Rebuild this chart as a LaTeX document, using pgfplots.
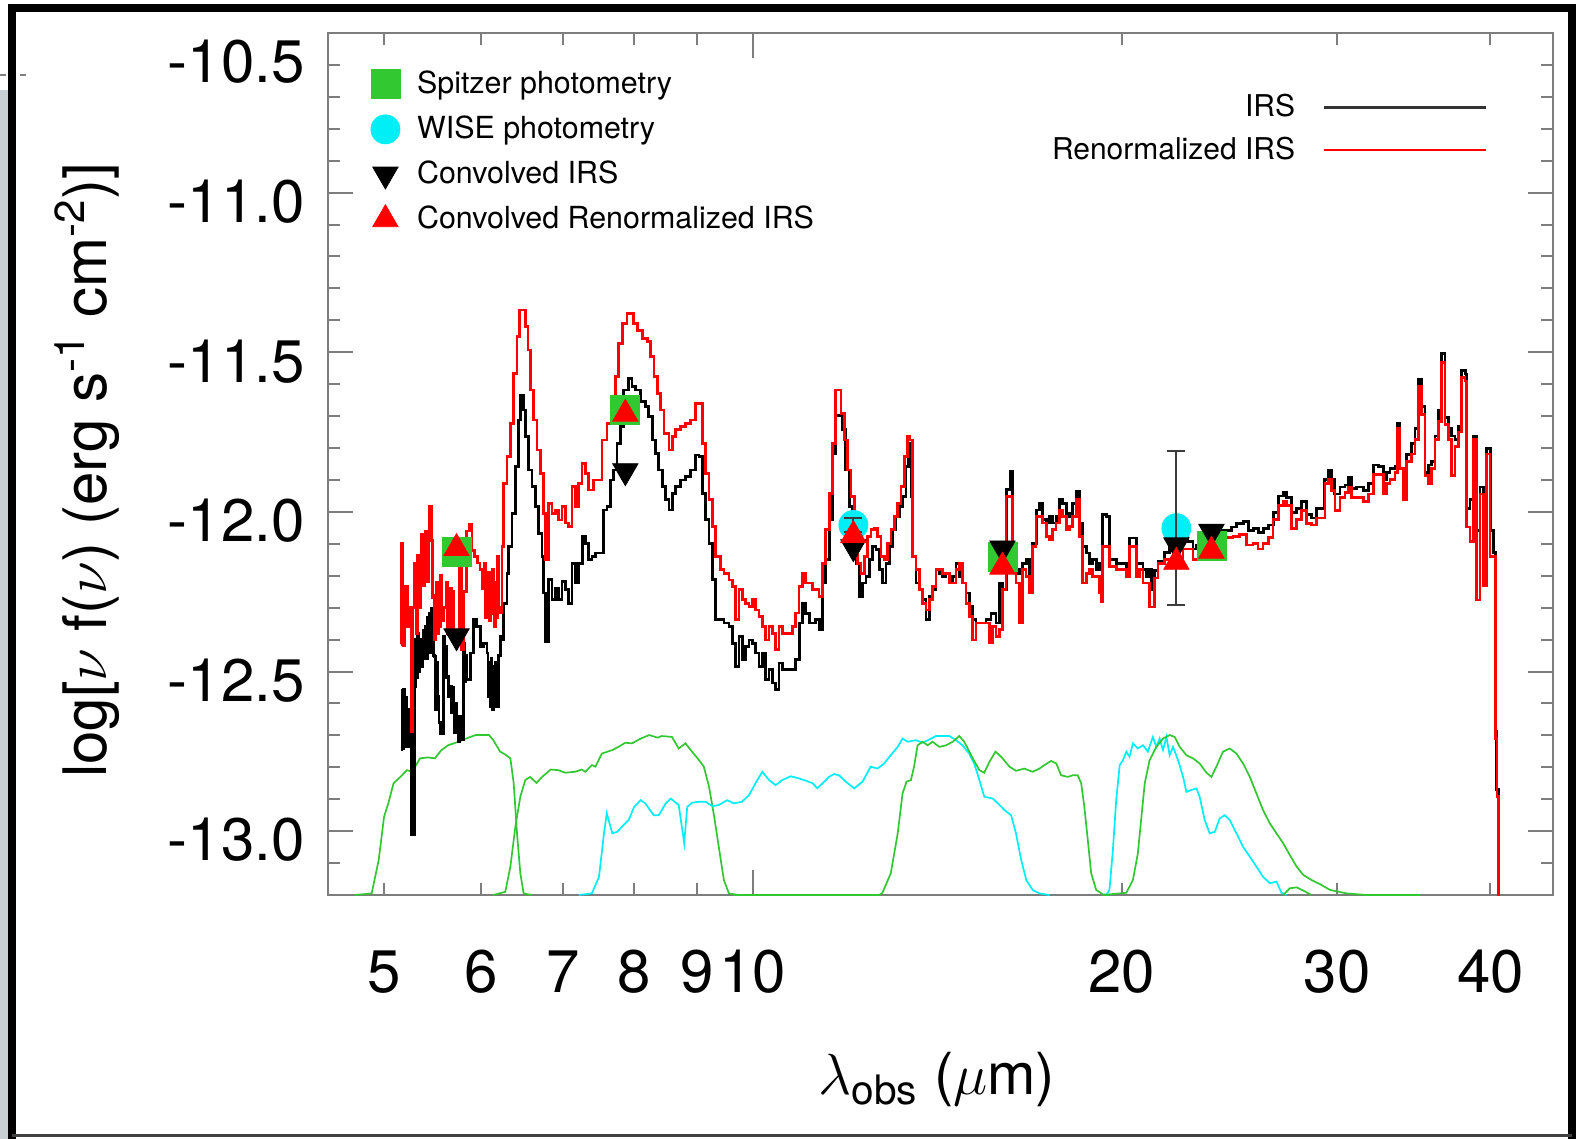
\documentclass[border=0pt]{standalone}
\usepackage{fix-cm}
\usepackage{amsmath}
\usepackage{fontspec}
\setmainfont{TeX Gyre Heros}
\usepackage{pgfplots}
\pgfplotsset{compat=1.18}
\definecolor{fgreen}{RGB}{50,200,50}
\definecolor{fcyan}{RGB}{0,238,245}
\definecolor{axgray}{RGB}{125,125,125}
\definecolor{bggray}{RGB}{200,208,212}
\definecolor{errgray}{RGB}{60,60,60}
\begin{document}
\begin{tikzpicture}
\useasboundingbox (0pt,0pt) rectangle (792pt,-569.5pt);
\fill[white] (0pt,0pt) rectangle (792pt,-569.5pt);
\fill[bggray] (0pt,-45pt) rectangle (4pt,-569.5pt);
\draw[gray, dash pattern=on 3pt off 2pt, line width=0.8pt] (0pt,-37.5pt) -- (13pt,-37.5pt);
\draw[black, line width=3.9pt, line join=miter] (5.9pt,-569.5pt) -- (5.9pt,-4pt) -- (786.1pt,-4pt) -- (786.1pt,-569.5pt);
\draw[black!75, line width=1.5pt] (5.9pt,-567.8pt) -- (786.1pt,-567.8pt);
\begin{axis}[
  at={(164pt,-447.5pt)}, anchor=south west,
  width=612.5pt, height=431pt, scale only axis,
  xmode=log, xmin=4.5, xmax=45, ymin=-13.2, ymax=-10.5,
  clip marker paths=true,
  axis line style={axgray, line width=1pt},
  tick style={axgray, line width=1pt},
  major tick length=12.5pt, minor tick length=6pt,
  tick align=inside, tick pos=both,
  xtick={10}, xticklabels={10},
  minor xtick={5,6,7,8,9,20,30,40},
  extra x ticks={5,6,7,8,9,20,30,40},
  extra x tick labels={5,6,7,8,9,20,30,40},
  extra x tick style={major tick length=0pt},
  ytick={-13,-12.5,-12,-11.5,-11},
  yticklabels={-13.0,-12.5,-12.0,-11.5,-11.0},
  minor ytick={-13.1,-12.9,-12.8,-12.7,-12.6,-12.4,-12.3,-12.2,-12.1,-11.9,-11.8,-11.7,-11.6,-11.4,-11.3,-11.2,-11.1,-10.9,-10.8,-10.7,-10.6},
  extra y ticks={-10.5}, extra y tick labels={-10.5},
  extra y tick style={yticklabel style={yshift=-10pt}},
  tick label style={font=\fontsize{30}{36}\selectfont, text=black},
  xticklabel style={anchor=center, inner sep=0pt, yshift=-38.5pt},
  yticklabel style={anchor=east, inner sep=0pt, xshift=-11.5pt, yshift=-4.5pt},
  xlabel={$\lambda_{\text{obs}}$ ($\mu$m)},
  ylabel={log[$\nu$ f($\nu$) (erg s$^{\text{-1}}$ cm$^{\text{-2}}$)]},
  label style={font=\fontsize{30}{36}\selectfont},
  xlabel style={at={(axis description cs:0.497,-0.2146)}, anchor=center, font=\fontsize{29}{35}\selectfont},
  ylabel style={at={(axis description cs:-0.1967,0.493)}, anchor=center},
  legend style={at={(axis description cs:0.0347,0.9606)}, anchor=north west, draw=none, fill=none, inner sep=0pt, row sep=5.5pt, column sep=6.6pt, font=\fontsize{15.2}{18}\selectfont, nodes={inner sep=2pt, text height=11pt, text depth=2pt}},
  legend cell align=left,
  legend image code/.code={\draw[#1] plot coordinates {(0pt,0pt)};},
]
% ---------- filter curves ----------
\addplot[fgreen, line width=0.85pt, forget plot] coordinates {
(4.73,-13.2)(4.885,-13.195)(4.95,-13.09)(5.0,-12.955)(5.04,-12.913)(5.09,-12.85)(5.14,-12.835)(5.22,-12.809)(5.27,-12.814)(5.35,-12.772)(5.43,-12.769)(5.50,-12.772)(5.57,-12.746)(5.64,-12.731)(5.72,-12.723)(5.79,-12.715)(5.86,-12.707)(5.94,-12.699)(6.09,-12.699)(6.14,-12.715)(6.22,-12.751)(6.28,-12.76)(6.34,-12.772)(6.38,-12.85)(6.42,-13.007)(6.46,-13.132)(6.50,-13.195)(6.60,-13.2)};
\addplot[fgreen, line width=0.85pt, forget plot] coordinates {
(6.14,-13.2)(6.28,-13.19)(6.34,-13.111)(6.40,-12.986)(6.46,-12.892)(6.52,-12.840)(6.58,-12.830)(6.66,-12.849)(6.73,-12.830)(6.84,-12.807)(6.94,-12.809)(7.03,-12.817)(7.16,-12.814)(7.25,-12.807)(7.30,-12.814)(7.39,-12.793)(7.44,-12.798)(7.53,-12.757)(7.68,-12.746)(7.77,-12.736)(7.87,-12.723)(7.97,-12.725)(8.10,-12.710)(8.23,-12.699)(8.36,-12.707)(8.43,-12.702)(8.59,-12.705)(8.70,-12.741)(8.81,-12.725)(8.92,-12.751)(9.04,-12.778)(9.12,-12.798)(9.21,-12.861)(9.30,-12.955)(9.38,-13.049)(9.47,-13.153)(9.56,-13.195)(9.74,-13.2)};
\addplot[fcyan, line width=0.85pt, forget plot] coordinates {
(7.21,-13.2)(7.39,-13.195)(7.49,-13.143)(7.56,-13.007)(7.60,-12.944)(7.68,-13.007)(7.75,-13.002)(7.82,-12.986)(7.92,-12.965)(8.00,-12.924)(8.10,-12.903)(8.17,-12.913)(8.30,-12.950)(8.38,-12.950)(8.49,-12.913)(8.57,-12.898)(8.70,-12.918)(8.79,-13.038)(8.84,-12.924)(8.92,-12.911)(9.04,-12.908)(9.15,-12.908)(9.27,-12.922)(9.38,-12.918)(9.53,-12.903)(9.65,-12.913)(9.80,-12.908)(9.93,-12.887)(10.05,-12.850)(10.18,-12.814)(10.31,-12.840)(10.44,-12.856)(10.57,-12.840)(10.74,-12.828)(10.91,-12.835)(11.05,-12.842)(11.19,-12.850)(11.29,-12.866)(11.40,-12.850)(11.54,-12.830)(11.65,-12.821)(11.76,-12.825)(11.91,-12.845)(12.10,-12.866)(12.29,-12.845)(12.48,-12.798)(12.64,-12.804)(12.80,-12.788)(12.96,-12.762)(13.13,-12.736)(13.25,-12.710)(13.38,-12.720)(13.59,-12.715)(13.76,-12.723)(13.93,-12.713)(14.11,-12.702)(14.47,-12.702)(14.65,-12.715)(14.83,-12.731)(15.02,-12.757)(15.16,-12.788)(15.31,-12.840)(15.45,-12.892)(15.70,-12.898)(15.90,-12.918)(16.05,-12.934)(16.25,-12.950)(16.40,-13.007)(16.56,-13.090)(16.72,-13.153)(16.92,-13.184)(17.14,-13.195)(17.47,-13.2)};
\addplot[fgreen, line width=0.85pt, forget plot] coordinates {
(9.65,-13.2)(12.68,-13.2)(12.76,-13.193)(12.96,-13.132)(13.13,-13.007)(13.25,-12.882)(13.35,-12.845)(13.46,-12.840)(13.54,-12.798)(13.63,-12.731)(13.76,-12.720)(13.89,-12.731)(14.02,-12.720)(14.20,-12.736)(14.38,-12.731)(14.56,-12.720)(14.74,-12.702)(14.88,-12.720)(15.12,-12.772)(15.31,-12.809)(15.45,-12.817)(15.60,-12.783)(15.78,-12.751)(15.95,-12.767)(16.20,-12.798)(16.40,-12.811)(16.66,-12.804)(16.92,-12.814)(17.14,-12.804)(17.30,-12.793)(17.52,-12.780)(17.69,-12.788)(17.85,-12.825)(18.08,-12.830)(18.25,-12.825)(18.42,-12.825)(18.54,-12.850)(18.65,-12.924)(18.77,-13.028)(18.89,-13.132)(19.07,-13.184)(19.31,-13.198)(19.55,-13.2)};
\addplot[fcyan, line width=0.85pt, forget plot] coordinates {
(19.43,-13.2)(19.55,-13.184)(19.68,-13.059)(19.80,-12.903)(19.93,-12.793)(20.05,-12.778)(20.18,-12.751)(20.30,-12.767)(20.43,-12.725)(20.62,-12.741)(20.82,-12.731)(21.01,-12.751)(21.21,-12.705)(21.35,-12.736)(21.48,-12.710)(21.62,-12.746)(21.76,-12.705)(21.89,-12.762)(22.03,-12.736)(22.24,-12.778)(22.45,-12.830)(22.59,-12.877)(22.81,-12.871)(23.02,-12.866)(23.16,-12.892)(23.38,-12.965)(23.60,-13.007)(23.83,-13.002)(24.05,-12.960)(24.28,-12.950)(24.51,-12.965)(24.82,-13.007)(25.13,-13.049)(25.45,-13.080)(25.77,-13.111)(26.09,-13.143)(26.43,-13.163)(26.76,-13.158)(27.01,-13.193)(27.27,-13.2)};
\addplot[fgreen, line width=0.85pt, forget plot] coordinates {
(19.3,-13.2)(20.18,-13.193)(20.43,-13.153)(20.62,-13.070)(20.76,-12.955)(20.89,-12.850)(21.08,-12.778)(21.35,-12.736)(21.62,-12.710)(21.89,-12.699)(22.10,-12.705)(22.31,-12.736)(22.59,-12.762)(22.87,-12.772)(23.16,-12.788)(23.46,-12.817)(23.68,-12.830)(23.90,-12.798)(24.20,-12.751)(24.51,-12.741)(24.82,-12.757)(25.13,-12.788)(25.45,-12.830)(25.77,-12.882)(26.09,-12.934)(26.43,-12.976)(26.76,-13.007)(27.10,-13.038)(27.44,-13.075)(27.79,-13.111)(28.14,-13.137)(28.58,-13.153)(29.04,-13.166)(29.59,-13.184)(30.53,-13.195)(31.70,-13.2)(35.05,-13.2)};
\addplot[fgreen, line width=0.85pt, forget plot] coordinates {
(27.10,-13.2)(27.44,-13.179)(27.79,-13.176)(28.14,-13.186)(28.58,-13.2)};
% ---------- IRS spectrum ----------
\addplot[black, line width=1.4pt, const plot, forget plot] coordinates {
(5.164,-12.745)(5.172,-12.56)(5.180,-12.74)(5.186,-12.557)(5.195,-12.70)(5.205,-12.58)(5.218,-12.734)(5.232,-12.62)(5.252,-12.693)(5.268,-13.010)(5.295,-12.547)(5.305,-12.40)(5.315,-12.52)(5.328,-12.380)(5.340,-12.50)(5.350,-12.40)(5.362,-12.484)(5.380,-12.37)(5.390,-12.46)(5.402,-12.359)(5.415,-12.46)(5.428,-12.33)(5.443,-12.317)(5.455,-12.44)(5.470,-12.301)(5.485,-12.45)(5.498,-12.453)(5.510,-12.62)(5.520,-12.47)(5.532,-12.578)(5.545,-12.66)(5.557,-12.693)(5.592,-12.390)(5.605,-12.52)(5.615,-12.42)(5.626,-12.515)(5.645,-12.58)(5.663,-12.547)(5.675,-12.63)(5.685,-12.55)(5.698,-12.609)(5.710,-12.69)(5.720,-12.60)(5.733,-12.651)(5.750,-12.72)(5.760,-12.64)(5.770,-12.713)(5.806,-12.411)(5.820,-12.53)(5.830,-12.45)(5.842,-12.526)(5.880,-12.442)(5.917,-12.338)(5.953,-12.359)(5.992,-12.421)(6.029,-12.411)(6.067,-12.442)(6.080,-12.58)(6.090,-12.47)(6.105,-12.609)(6.115,-12.46)(6.125,-12.62)(6.144,-12.484)(6.155,-12.61)(6.165,-12.47)(6.182,-12.609)(6.200,-12.45)(6.221,-12.390)(6.240,-12.401)(6.260,-12.286)(6.299,-12.192)(6.320,-12.108)(6.359,-12.004)(6.400,-11.858)(6.440,-11.712)(6.460,-11.634)(6.500,-11.681)(6.521,-11.764)(6.562,-11.869)(6.603,-11.921)(6.645,-11.983)(6.687,-12.067)(6.728,-12.140)(6.750,-12.254)(6.772,-12.406)(6.814,-12.213)(6.856,-12.275)(6.900,-12.239)(6.943,-12.275)(6.987,-12.218)(7.031,-12.244)(7.075,-12.286)(7.119,-12.161)(7.165,-12.223)(7.210,-12.161)(7.255,-12.077)(7.301,-12.098)(7.347,-12.150)(7.392,-12.140)(7.440,-12.129)(7.510,-12.129)(7.557,-11.994)(7.604,-11.983)(7.653,-11.900)(7.701,-11.869)(7.749,-11.785)(7.798,-11.733)(7.847,-11.618)(7.921,-11.582)(7.971,-11.608)(8.022,-11.618)(8.098,-11.655)(8.174,-11.670)(8.225,-11.702)(8.276,-11.775)(8.330,-11.816)(8.381,-11.869)(8.434,-11.921)(8.488,-11.962)(8.541,-11.994)(8.594,-11.942)(8.649,-11.921)(8.731,-11.900)(8.813,-11.889)(8.897,-11.869)(8.981,-11.822)(9.037,-11.827)(9.093,-11.942)(9.152,-12.025)(9.209,-12.098)(9.266,-12.213)(9.326,-12.338)(9.384,-12.338)(9.472,-12.348)(9.562,-12.359)(9.622,-12.411)(9.683,-12.484)(9.744,-12.390)(9.804,-12.463)(9.867,-12.421)(9.929,-12.401)(9.991,-12.411)(10.055,-12.442)(10.118,-12.484)(10.181,-12.442)(10.246,-12.526)(10.310,-12.494)(10.374,-12.536)(10.441,-12.557)(10.506,-12.473)(10.571,-12.494)(10.639,-12.494)(10.740,-12.494)(10.841,-12.463)(10.909,-12.348)(10.977,-12.286)(11.047,-12.317)(11.116,-12.348)(11.257,-12.338)(11.327,-12.369)(11.398,-12.223)(11.471,-12.150)(11.543,-12.025)(11.615,-11.816)(11.689,-11.697)(11.762,-11.697)(11.835,-11.743)(11.911,-11.869)(11.986,-11.983)(12.060,-12.056)(12.138,-12.161)(12.213,-12.265)(12.289,-12.223)(12.368,-12.202)(12.445,-12.150)(12.523,-12.108)(12.603,-12.119)(12.682,-12.181)(12.761,-12.223)(12.843,-12.161)(12.923,-12.108)(13.003,-12.056)(13.087,-12.015)(13.168,-11.983)(13.250,-11.952)(13.336,-11.858)(13.401,-11.785)(13.462,-11.952)(13.502,-12.140)(13.589,-12.223)(13.674,-12.244)(13.759,-12.275)(13.847,-12.338)(13.933,-12.265)(14.020,-12.244)(14.110,-12.181)(14.198,-12.192)(14.287,-12.202)(14.378,-12.192)(14.468,-12.223)(14.558,-12.202)(14.652,-12.161)(14.743,-12.202)(14.835,-12.223)(14.930,-12.254)(15.023,-12.296)(15.117,-12.338)(15.214,-12.348)(15.358,-12.348)(15.503,-12.338)(15.650,-12.317)(15.798,-12.348)(15.896,-12.223)(15.995,-12.244)(16.098,-11.931)(16.219,-11.874)(16.299,-12.108)(16.404,-12.192)(16.506,-12.181)(16.609,-12.161)(16.715,-12.150)(16.820,-12.202)(16.924,-12.098)(17.033,-11.994)(17.139,-11.973)(17.246,-12.025)(17.357,-12.035)(17.465,-12.015)(17.574,-12.035)(17.686,-12.015)(17.797,-11.962)(17.908,-11.973)(18.022,-12.004)(18.135,-12.015)(18.248,-11.973)(18.365,-11.936)(18.479,-12.035)(18.595,-12.108)(18.714,-12.129)(18.831,-12.161)(18.948,-12.150)(19.070,-12.181)(19.188,-12.161)(19.308,-12.009)(19.432,-12.015)(19.553,-12.150)(19.801,-12.161)(20.178,-12.171)(20.303,-12.082)(20.561,-12.161)(20.819,-12.181)(20.952,-12.202)(21.082,-12.181)(21.15,-12.244)(21.28,-12.184)(21.415,-12.156)(21.686,-12.127)(21.891,-12.104)(22.167,-12.093)(22.447,-12.070)(22.660,-12.093)(22.874,-12.116)(23.018,-12.104)(23.163,-12.070)(23.309,-12.047)(23.529,-12.053)(23.752,-12.064)(24.051,-12.059)(24.355,-12.059)(24.585,-12.047)(24.818,-12.036)(25.132,-12.030)(25.369,-12.059)(25.609,-12.053)(25.852,-12.064)(26.096,-12.053)(26.343,-12.041)(26.592,-12.001)(26.843,-11.950)(27.097,-11.939)(27.268,-11.956)(27.526,-12.001)(27.786,-11.990)(28.048,-11.967)(28.314,-12.007)(28.581,-12.019)(28.852,-11.990)(29.125,-11.990)(29.308,-11.899)(29.493,-11.870)(29.678,-11.899)(29.865,-11.944)(30.148,-11.922)(30.433,-11.916)(30.625,-11.893)(30.818,-11.927)(31.109,-11.922)(31.502,-11.933)(31.800,-11.910)(32.100,-11.853)(32.404,-11.859)(32.710,-11.899)(32.916,-11.876)(33.124,-11.865)(33.437,-11.859)(33.584,-11.722)(33.753,-11.865)(33.966,-11.887)(34.180,-11.819)(34.503,-11.785)(34.720,-11.739)(34.939,-11.585)(35.159,-11.671)(35.380,-11.876)(35.603,-11.853)(35.827,-11.842)(36.052,-11.762)(36.279,-11.682)(36.508,-11.505)(36.738,-11.705)(36.969,-11.739)(37.202,-11.762)(37.436,-11.773)(37.672,-11.733)(37.909,-11.556)(38.148,-11.568)(38.267,-11.990)(38.508,-11.962)(38.751,-11.762)(38.994,-12.059)(39.240,-11.922)(39.487,-12.070)(39.736,-11.802)(39.986,-12.059)(40.238,-12.127)(40.364,-12.687)(40.491,-12.869)(40.618,-13.400)(40.7,-13.4)};
\addplot[red, line width=1.35pt, const plot, forget plot] coordinates {
(5.157,-12.416)(5.164,-12.098)(5.18,-12.42)(5.20,-12.234)(5.225,-12.359)(5.245,-12.30)(5.262,-12.687)(5.275,-12.30)(5.29,-12.16)(5.31,-12.38)(5.325,-12.135)(5.345,-12.30)(5.36,-12.07)(5.385,-12.23)(5.40,-12.06)(5.42,-12.22)(5.44,-11.983)(5.465,-12.09)(5.48,-12.27)(5.50,-12.40)(5.51,-12.26)(5.52,-12.22)(5.53,-12.38)(5.545,-12.36)(5.56,-12.20)(5.575,-12.34)(5.59,-12.30)(5.62,-12.22)(5.635,-12.38)(5.65,-12.37)(5.665,-12.24)(5.68,-12.25)(5.695,-12.40)(5.71,-12.39)(5.74,-12.40)(5.76,-12.16)(5.78,-12.43)(5.81,-12.25)(5.84,-12.06)(5.87,-12.04)(5.90,-12.12)(5.93,-12.14)(5.96,-12.16)(5.99,-12.18)(6.02,-12.24)(6.035,-12.16)(6.05,-12.33)(6.08,-12.19)(6.095,-12.34)(6.11,-12.32)(6.125,-12.18)(6.14,-12.22)(6.155,-12.36)(6.17,-12.33)(6.19,-12.14)(6.205,-12.30)(6.221,-12.317)(6.240,-12.108)(6.260,-11.910)(6.299,-11.827)(6.340,-11.723)(6.379,-11.566)(6.420,-11.451)(6.449,-11.368)(6.480,-11.368)(6.521,-11.420)(6.554,-11.493)(6.582,-11.618)(6.624,-11.712)(6.666,-11.806)(6.707,-11.879)(6.750,-12.004)(6.772,-12.150)(6.814,-11.973)(6.856,-12.004)(6.900,-11.994)(6.943,-12.025)(6.987,-11.983)(7.031,-12.035)(7.075,-12.046)(7.119,-11.921)(7.165,-11.983)(7.210,-11.910)(7.255,-11.848)(7.301,-11.879)(7.347,-11.931)(7.416,-11.900)(7.486,-11.900)(7.533,-11.775)(7.604,-11.723)(7.677,-11.639)(7.725,-11.577)(7.774,-11.472)(7.823,-11.410)(7.896,-11.379)(7.946,-11.379)(7.997,-11.410)(8.047,-11.431)(8.123,-11.457)(8.199,-11.467)(8.250,-11.514)(8.303,-11.577)(8.356,-11.629)(8.408,-11.681)(8.461,-11.754)(8.541,-11.806)(8.594,-11.764)(8.649,-11.743)(8.731,-11.733)(8.813,-11.723)(8.897,-11.712)(8.981,-11.660)(9.037,-11.660)(9.093,-11.785)(9.152,-11.879)(9.209,-11.962)(9.266,-12.046)(9.326,-12.140)(9.413,-12.181)(9.472,-12.192)(9.562,-12.213)(9.622,-12.234)(9.683,-12.338)(9.744,-12.244)(9.804,-12.275)(9.867,-12.286)(9.929,-12.296)(9.991,-12.275)(10.055,-12.307)(10.118,-12.327)(10.181,-12.359)(10.246,-12.401)(10.310,-12.359)(10.374,-12.380)(10.441,-12.432)(10.506,-12.359)(10.571,-12.380)(10.673,-12.380)(10.772,-12.359)(10.841,-12.317)(10.909,-12.234)(10.977,-12.192)(11.047,-12.223)(11.186,-12.244)(11.327,-12.265)(11.398,-12.161)(11.471,-12.056)(11.543,-11.942)(11.615,-11.785)(11.674,-11.618)(11.747,-11.618)(11.800,-11.691)(11.873,-11.775)(11.947,-11.869)(12.024,-11.952)(12.099,-12.056)(12.174,-12.161)(12.253,-12.192)(12.329,-12.140)(12.406,-12.077)(12.485,-12.056)(12.563,-12.051)(12.641,-12.077)(12.722,-12.140)(12.802,-12.150)(12.882,-12.098)(12.964,-12.056)(13.045,-12.015)(13.126,-11.973)(13.211,-11.921)(13.293,-11.827)(13.376,-11.764)(13.436,-11.775)(13.502,-12.140)(13.589,-12.181)(13.674,-12.244)(13.759,-12.286)(13.847,-12.307)(13.933,-12.275)(14.020,-12.234)(14.110,-12.181)(14.287,-12.192)(14.468,-12.223)(14.652,-12.181)(14.743,-12.161)(14.835,-12.223)(14.930,-12.286)(15.023,-12.327)(15.117,-12.401)(15.214,-12.348)(15.503,-12.348)(15.600,-12.411)(15.697,-12.359)(15.798,-12.390)(15.896,-12.369)(15.995,-12.244)(16.098,-11.952)(16.219,-11.952)(16.299,-12.108)(16.404,-12.223)(16.506,-12.348)(16.609,-12.181)(16.715,-12.202)(16.820,-12.254)(16.924,-12.108)(17.033,-12.015)(17.139,-12.015)(17.246,-12.035)(17.357,-12.077)(17.465,-12.088)(17.574,-12.056)(17.686,-12.035)(17.797,-11.994)(17.908,-12.015)(18.022,-12.056)(18.135,-12.046)(18.248,-12.015)(18.365,-11.962)(18.479,-12.077)(18.595,-12.223)(18.714,-12.192)(18.831,-12.181)(18.948,-12.202)(19.188,-12.254)(19.250,-12.281)(19.308,-12.108)(19.432,-12.108)(19.553,-12.171)(19.801,-12.181)(20.178,-12.202)(20.303,-12.108)(20.561,-12.202)(20.690,-12.181)(20.819,-12.223)(21.082,-12.298)(21.281,-12.207)(21.415,-12.161)(21.686,-12.150)(22.167,-12.161)(22.447,-12.116)(22.874,-12.150)(23.163,-12.116)(23.529,-12.093)(23.826,-12.104)(24.051,-12.081)(24.663,-12.076)(24.974,-12.070)(25.290,-12.104)(25.609,-12.099)(25.852,-12.116)(26.096,-12.099)(26.343,-12.081)(26.592,-12.024)(26.843,-11.979)(27.097,-11.967)(27.268,-11.979)(27.526,-12.053)(27.786,-12.024)(28.048,-11.996)(28.314,-12.036)(28.581,-12.041)(28.852,-12.019)(29.308,-11.910)(29.493,-11.899)(29.678,-11.933)(29.865,-11.996)(30.148,-11.956)(30.433,-11.939)(30.625,-11.922)(30.818,-11.956)(31.502,-11.967)(31.800,-11.944)(32.100,-11.882)(32.710,-11.944)(32.916,-11.910)(33.124,-11.899)(33.437,-11.876)(33.584,-11.739)(33.753,-11.865)(33.966,-11.962)(34.180,-11.842)(34.503,-11.819)(34.720,-11.773)(34.939,-11.608)(35.159,-11.694)(35.380,-11.887)(35.603,-11.910)(35.827,-11.865)(36.052,-11.773)(36.279,-11.716)(36.508,-11.533)(36.738,-11.727)(36.969,-11.773)(37.202,-11.887)(37.436,-11.796)(37.672,-11.750)(37.909,-11.579)(38.148,-11.590)(38.267,-12.047)(38.508,-12.093)(38.751,-11.773)(38.994,-12.276)(39.240,-11.944)(39.487,-12.230)(39.736,-11.819)(39.986,-12.139)(40.238,-12.139)(40.364,-12.710)(40.491,-12.892)(40.618,-13.400)(40.7,-13.4)};
% ---------- photometry ----------
\addplot[only marks, mark=square*, mark size=7.25pt, color=fgreen] coordinates {
(5.73,-12.125)(7.87,-11.679)(15.99,-12.140)(23.68,-12.105)};
\addlegendentry{Spitzer photometry}
\addplot[only marks, mark=*, mark size=7.25pt, color=fcyan] coordinates {
(12.08,-12.041)(22.17,-12.051)};
\addlegendentry{WISE photometry}
\addplot[forget plot, draw=none, mark=none, error bars/.cd, y dir=both, y explicit,
  error bar style={draw=errgray, line width=1pt},
  error mark options={rotate=90, draw=errgray, line width=1pt, mark size=4.5pt}] coordinates {
(12.08,-12.041) +- (0,0.022)
(22.17,-12.051) +- (0,0.242)};
\addplot[only marks, mark=triangle*, mark size=7.3pt, mark options={rotate=180}, color=black] coordinates {
(5.73,-12.389)(7.87,-11.872)(12.08,-12.110)(15.99,-12.114)(22.17,-12.104)(23.68,-12.062)};
\addlegendentry{Convolved IRS}
\addplot[only marks, mark=triangle*, mark size=7.3pt, color=red] coordinates {
(5.73,-12.114)(7.87,-11.693)(12.08,-12.073)(15.99,-12.172)(22.17,-12.157)(23.68,-12.122)};
\addlegendentry{Convolved Renormalized IRS}
\end{axis}
\begin{axis}[
  at={(164pt,-447.5pt)}, anchor=south west,
  width=612.5pt, height=431pt, scale only axis, hide axis,
  xmin=0, xmax=1, ymin=0, ymax=1,
  legend style={at={(axis description cs:0.947,0.9339)}, anchor=north east, draw=none, fill=none, inner sep=0pt, row sep=4.5pt, column sep=12pt, font=\fontsize{15}{18}\selectfont, nodes={inner sep=2pt, text height=11pt, text depth=2pt}},
  legend cell align=right, legend plot pos=right,
  legend image code/.code={\draw[#1] (0pt,0pt) -- (81pt,0pt);},
]
\addlegendimage{color=black!80, line width=1.3pt}
\addlegendentry{IRS}
\addlegendimage{color=red, line width=1pt}
\addlegendentry{Renormalized IRS}
\end{axis}
\end{tikzpicture}
\end{document}
